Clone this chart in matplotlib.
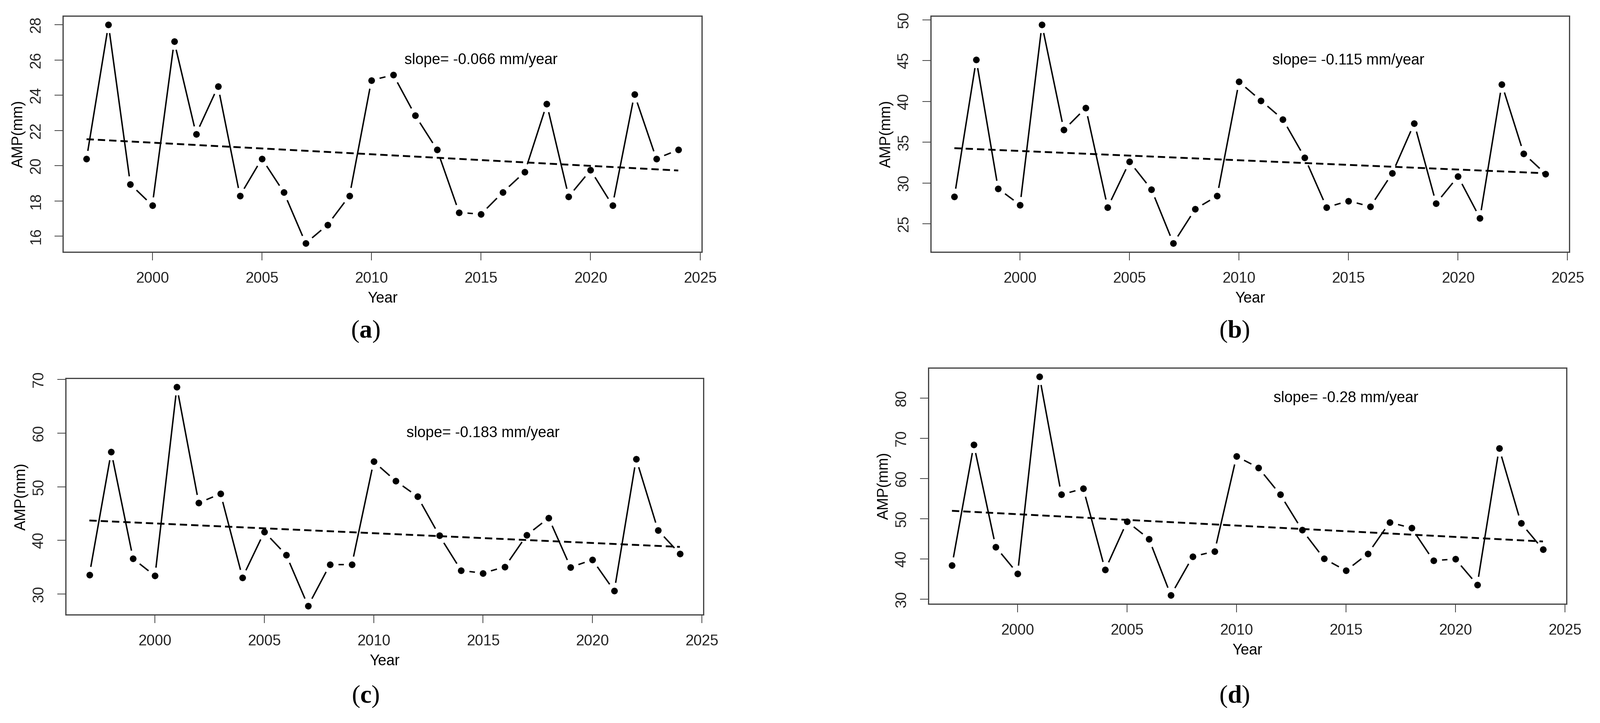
import numpy as np
import matplotlib
matplotlib.use("Agg")
import matplotlib.pyplot as plt

plt.rcParams["font.family"] = ["Liberation Sans", "DejaVu Sans"]
plt.rcParams["mathtext.fontset"] = "custom"
plt.rcParams["mathtext.rm"] = "Liberation Serif"
plt.rcParams["mathtext.bf"] = "Liberation Serif:bold"

years = list(range(1997, 2025))

amp_a = [20.4, 28.0, 18.95, 17.75, 27.05, 21.8, 24.5, 18.3, 20.4, 18.5,
         15.6, 16.65, 18.3, 24.85, 25.15, 22.85, 20.9, 17.35, 17.25, 18.5,
         19.65, 23.5, 18.25, 19.75, 17.75, 24.05, 20.4, 20.9]
amp_b = [28.3, 45.1, 29.3, 27.3, 49.4, 36.5, 39.2, 27.0, 32.6, 29.2,
         22.6, 26.8, 28.4, 42.4, 40.1, 37.8, 33.1, 27.0, 27.8, 27.1,
         31.2, 37.3, 27.5, 30.8, 25.7, 42.1, 33.6, 31.1]
amp_c = [33.6, 56.5, 36.6, 33.4, 68.6, 47.0, 48.7, 33.1, 41.6, 37.3,
         27.8, 35.5, 35.5, 54.7, 51.1, 48.2, 40.9, 34.4, 33.9, 35.1,
         41.0, 44.2, 35.0, 36.4, 30.6, 55.2, 41.9, 37.5]
amp_d = [38.4, 68.4, 43.0, 36.4, 85.3, 56.0, 57.5, 37.3, 49.3, 45.0,
         31.0, 40.6, 41.9, 65.5, 62.7, 56.0, 47.2, 40.1, 37.1, 41.3,
         49.1, 47.7, 39.6, 40.0, 33.6, 67.5, 48.9, 42.4]

slope_text = ["slope= -0.066 mm/year", "slope= -0.115 mm/year",
              "slope= -0.183 mm/year", "slope= -0.28 mm/year"]
text_y = [26, 45, 60, 80]
yticks = [range(16, 29, 2), range(25, 51, 5), range(30, 71, 10), range(30, 81, 10)]
xticks = [2000, 2005, 2010, 2015, 2020, 2025]
captions = ["a", "b", "c", "d"]

fig = plt.figure(figsize=(40.19, 18.16), dpi=100)

rects = [[0.0393, 0.6514, 0.3994, 0.3265],
         [0.5817, 0.6514, 0.3991, 0.3265],
         [0.0411, 0.1498, 0.3986, 0.3271],
         [0.5802, 0.1646, 0.3989, 0.3265]]
cap_pos = [(918 / 4019, 1 - 833 / 1816), (3101 / 4019, 1 - 833 / 1816),
           (918 / 4019, 1 - 1750 / 1816), (3101 / 4019, 1 - 1750 / 1816)]

series = [amp_a, amp_b, amp_c, amp_d]
for i, vals in enumerate(series):
    ax = fig.add_axes(rects[i])
    x = np.array(years)
    y = np.array(vals)
    # R type="b": line with gaps around the points
    ax.plot(x, y, color="black", lw=2.6, zorder=1)
    ax.plot(x, y, "o", ms=30, color="white", mec="none", zorder=2)
    ax.plot(x, y, "o", ms=11, color="black", zorder=3)
    k, b = np.polyfit(x, y, 1)
    ax.plot(x, k * x + b, color="black", lw=3.3, ls=(0, (4, 2.2)), zorder=4)
    ax.margins(0.04)
    ax.set_xticks(xticks)
    ax.set_yticks(list(yticks[i]))
    ax.tick_params(direction="out", length=15, width=1.2, pad=20,
                   labelsize=27, colors="#222222")
    ax.tick_params(axis="y", labelrotation=90)
    for lab in ax.get_yticklabels():
        lab.set_va("center")
    for s in ax.spines.values():
        s.set_color("#444444")
        s.set_linewidth(2.2)
    ax.text(2015, text_y[i], slope_text[i], fontsize=27, ha="center", va="center")
    ax.set_xlabel("Year", fontsize=27)
    ax.set_ylabel("AMP(mm)", fontsize=27)
    ax.xaxis.set_label_coords(0.5, -0.167)
    ax.yaxis.set_label_coords(-0.058, 0.5)
    fig.text(cap_pos[i][0], cap_pos[i][1], r"($\mathbf{%s}$)" % captions[i],
             fontsize=46, ha="center", va="center", family="Liberation Serif")

fig.savefig("out.png", dpi=100)
